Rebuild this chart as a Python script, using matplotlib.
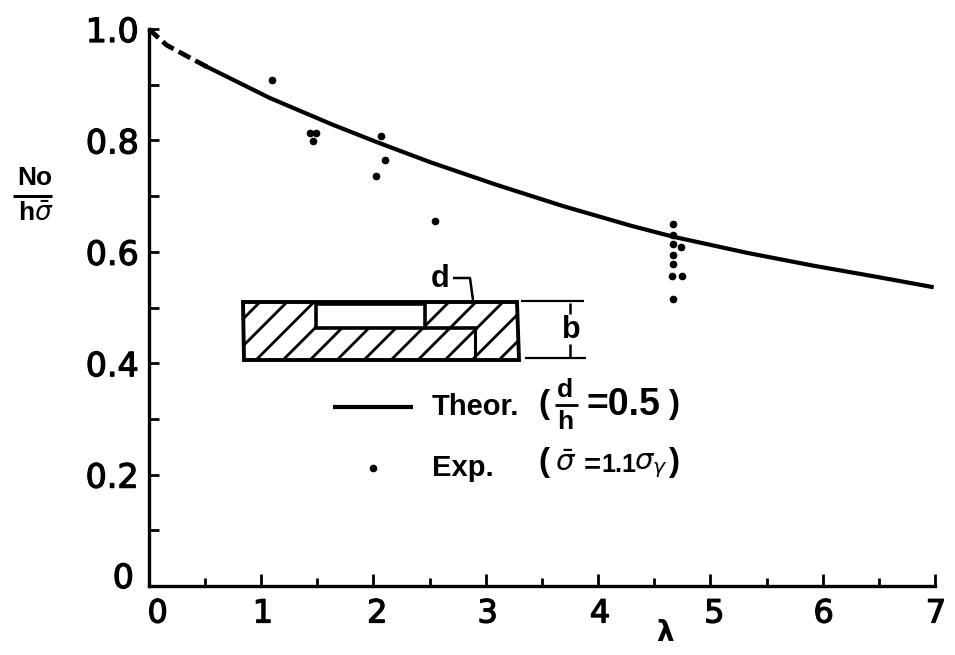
import numpy as np
from matplotlib import pyplot as plt
from matplotlib.patches import Polygon
from matplotlib.transforms import Affine2D
import matplotlib.patheffects as pe

plt.rcParams['font.family'] = ['DejaVu Sans']
plt.rcParams['mathtext.fontset'] = 'dejavusans'

# values
dash_x = [0.0, 0.16, 0.37, 0.52]
dash_y = [1.0, 0.971, 0.948, 0.932]
theor_x = [0.52, 1.08, 1.64, 2.03, 2.505, 3.10, 3.69, 4.29, 4.67, 5.33, 5.92, 6.51, 6.97]
theor_y = [0.932, 0.876, 0.828, 0.797, 0.761, 0.720, 0.682, 0.647, 0.627, 0.598, 0.575, 0.554, 0.537]
exp_x = [1.10, 1.44, 1.49, 1.46, 2.07, 2.10, 2.02, 2.55,
         4.67, 4.67, 4.67, 4.74, 4.67, 4.67, 4.66, 4.75, 4.67]
exp_y = [0.908, 0.813, 0.813, 0.799, 0.808, 0.765, 0.736, 0.655,
         0.650, 0.630, 0.614, 0.609, 0.594, 0.578, 0.557, 0.557, 0.515]
x_ticks = [0, 1, 2, 3, 4, 5, 6, 7]
x_minor = [0.5, 1.5, 2.5, 3.5, 4.5, 5.5, 6.5]
y_ticks = [0, 0.2, 0.4, 0.6, 0.8, 1.0]
y_minor = [0.1, 0.3, 0.5, 0.7, 0.9]
y_labels = ['0', '0.2', '0.4', '0.6', '0.8', '1.0']
x_label_shift = [9, 2, 4, 2, 2, 4, 1, 1]

fig = plt.figure(figsize=(9.55, 6.55), dpi=100)
ax = fig.add_axes([148.7 / 955, 69 / 655, (935 - 148.7) / 955, 557 / 655])
ax.set_xlim(0, 7)
ax.set_ylim(0, 1)
for s in ['top', 'right']:
    ax.spines[s].set_visible(False)
for s in ['left', 'bottom']:
    ax.spines[s].set_linewidth(2.4)

ax.set_xticks(x_ticks)
ax.set_xticks(x_minor, minor=True)
ax.set_yticks(y_ticks)
ax.set_yticks(y_minor, minor=True)
ax.set_yticklabels(y_labels)
ax.tick_params(axis='x', which='major', direction='in', length=9, width=2, labelsize=23, pad=9)
ax.tick_params(axis='x', which='minor', direction='in', length=6, width=2)
ax.tick_params(axis='y', which='both', direction='in', length=7, width=2, labelsize=24, pad=7)

heavy = [pe.withStroke(linewidth=0.9, foreground='black')]
for t, dx in zip(ax.get_xticklabels(), x_label_shift):
    t.set_transform(t.get_transform() + Affine2D().translate(dx, 0))
    t.set_path_effects(heavy)
for t in ax.get_yticklabels():
    t.set_path_effects(heavy)
zero = ax.get_yticklabels()[0]
zero.set_transform(zero.get_transform() + Affine2D().translate(-5, 11))

ax.plot(dash_x, dash_y, color='black', lw=3.4, ls=(0, (2.8, 1.2)), clip_on=False)
ax.plot(theor_x, theor_y, color='black', lw=3.0, clip_on=False)
ax.plot(exp_x, exp_y, 'o', color='black', ms=4.5, clip_on=False)
ax.text(4.6, -0.084, 'λ', fontsize=20, fontweight='bold', ha='center', va='center', clip_on=False)

# everything below is the drawing and key, placed in image pixels (y down)
px = Affine2D().scale(1, -1).translate(0, 655)


def line(xs, ys, lw=2.4):
    fig.add_artist(plt.Line2D(xs, ys, color='black', lw=lw, transform=px, solid_capstyle='butt'))


def label(x, y, s, size=21, ha='left'):
    fig.text(x, y, s, transform=px, fontsize=size, fontweight='bold', ha=ha, va='center',
             family=['Liberation Sans', 'DejaVu Sans'])


# y axis label
label(35, 178, 'No', size=19, ha='center')
line([13, 52], [196, 196], lw=2.2)
label(36, 214, 'h$\\bar{\\sigma}$', size=19, ha='center')

# section of the plate
outline = [(243, 302), (517, 302), (519, 360), (244, 360)]
cavity = [(316, 304), (425, 304), (425, 328), (316, 328)]
body = Polygon(outline, closed=True, fc='none', ec='black', lw=2.8, transform=px)
fig.add_artist(body)
for c in np.arange(262, 560, 27):
    hatch = plt.Line2D([c - 62, c], [362, 300], color='black', lw=2.0, transform=px)
    fig.add_artist(hatch)
    hatch.set_clip_path(body)
fig.add_artist(Polygon(cavity, closed=True, fc='white', ec='black', lw=2.6, transform=px, zorder=4))
line([425, 478], [328, 328], lw=2.6)
line([475, 475], [328, 358], lw=2.2)
line([453, 470, 473], [278, 278, 300], lw=1.8)
line([521, 584], [301, 301], lw=1.6)
line([525, 586], [358, 358], lw=1.6)
line([570, 570], [303, 314], lw=1.8)
line([570, 570], [344, 357], lw=1.8)
label(431, 279, 'd', size=22)
label(562, 330, 'b', size=22)

# key
line([333, 413], [407, 407], lw=3.0)
label(432, 407, 'Theor.')
label(538, 405, '(', size=24)
label(565, 390, 'd', size=19, ha='center')
line([555, 578], [405, 405], lw=2.0)
label(565, 422, 'h', size=19, ha='center')
label(587, 405, '=0.5', size=27)
label(668, 405, ')', size=24)
fig.add_artist(plt.Line2D([373], [468], marker='o', color='black', ms=4.5, transform=px))
label(432, 468, 'Exp.')
label(538, 463, '(', size=24)
label(566, 463, '$\\bar{\\sigma}$', size=21, ha='center')
label(584, 465, '=', size=21)
label(601, 465, '1.1', size=18)
label(634, 466, '$\\sigma_{\\gamma}$', size=21)
label(668, 463, ')', size=24)

fig.savefig('out.png', dpi=100)
